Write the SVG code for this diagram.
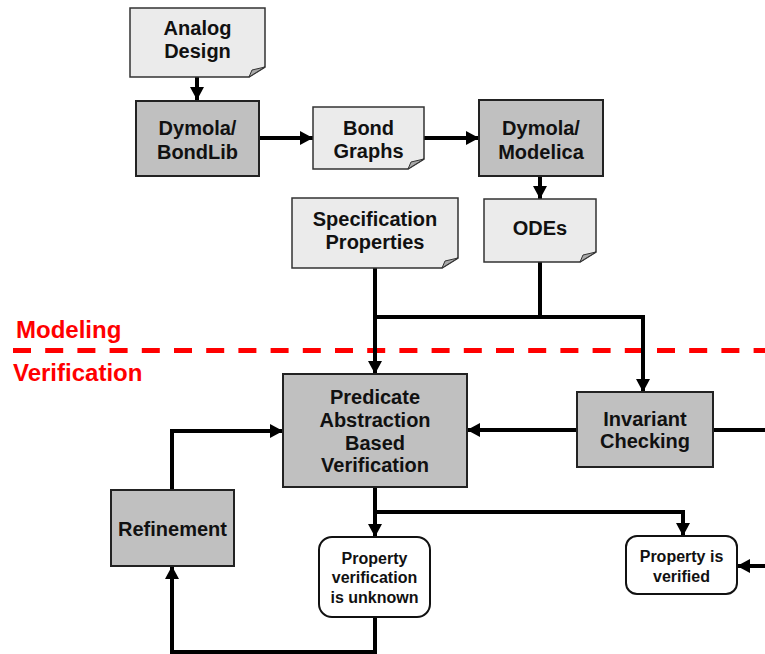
<svg xmlns="http://www.w3.org/2000/svg" width="765" height="654" viewBox="0 0 765 654">
<style>
.t{font-family:"Liberation Sans",Arial,sans-serif;font-weight:bold;font-size:20px;fill:#111;text-anchor:middle}
.s{font-family:"Liberation Sans",Arial,sans-serif;font-weight:bold;font-size:16px;fill:#111;text-anchor:middle}
.r{font-family:"Liberation Sans",Arial,sans-serif;font-weight:bold;font-size:24px;fill:#ff0000}
.box{fill:#c0c0c0;stroke:#222;stroke-width:2}
.doc{fill:#ebebeb;stroke:#333;stroke-width:1.5}
.fold{fill:#a8a8a8;stroke:#333;stroke-width:1}
.res{fill:#fff;stroke:#111;stroke-width:2}
.c{fill:none;stroke:#000;stroke-width:4}
</style>
<defs>
<marker id="a" markerUnits="userSpaceOnUse" markerWidth="14" markerHeight="14" viewBox="0 0 14 14" refX="13" refY="7" orient="auto">
<path d="M0,0 L13,7 L0,14 Z" fill="#000"/>
</marker>
</defs>
<line x1="13" y1="350.5" x2="765" y2="350.5" stroke="#ff0000" stroke-width="5" stroke-dasharray="18 14.2"/>
<text class="r" x="16" y="338">Modeling</text>
<text class="r" x="13" y="381">Verification</text>
<g id="connectors">
<path class="c" d="M197,77 V100" marker-end="url(#a)"/>
<path class="c" d="M259,138 H313" marker-end="url(#a)"/>
<path class="c" d="M424,138 H479" marker-end="url(#a)"/>
<path class="c" d="M540,176 V199" marker-end="url(#a)"/>
<path class="c" d="M375,268 V374" marker-end="url(#a)"/>
<path class="c" d="M540,262 V317"/>
<path class="c" d="M375,317 H643 V392" marker-end="url(#a)"/>
<path class="c" d="M577,430 H467" marker-end="url(#a)"/>
<path class="c" d="M713,430 H765"/>
<path class="c" d="M375,487 V537" marker-end="url(#a)"/>
<path class="c" d="M375,512 H683 V536" marker-end="url(#a)"/>
<path class="c" d="M765,566 H737" marker-end="url(#a)"/>
<path class="c" d="M375,617 V652 H172 V566" marker-end="url(#a)"/>
<path class="c" d="M172,490 V431 H283" marker-end="url(#a)"/>
</g>
<g id="analog-design">
<path class="doc" d="M130,8 H265 V67 L249,77 H130 Z"/>
<path class="fold" d="M265,67 L252,70 L249,77 Z"/>
<text class="t" x="197.5" y="35">Analog</text>
<text class="t" x="197.5" y="58">Design</text>
</g>
<g id="dymola-bondlib">
<rect class="box" x="136" y="101" width="123" height="75"/>
<text class="t" x="197.5" y="135">Dymola/</text>
<text class="t" x="197.5" y="159">BondLib</text>
</g>
<g id="bond-graphs">
<path class="doc" d="M313,107 H424 V159 L408,169 H313 Z"/>
<path class="fold" d="M424,159 L411,162 L408,169 Z"/>
<text class="t" x="368.5" y="135">Bond</text>
<text class="t" x="368.5" y="158">Graphs</text>
</g>
<g id="dymola-modelica">
<rect class="box" x="479" y="100" width="124" height="76"/>
<text class="t" x="541" y="135">Dymola/</text>
<text class="t" x="541" y="159">Modelica</text>
</g>
<g id="specification-properties">
<path class="doc" d="M292,198 H458 V258 L442,268 H292 Z"/>
<path class="fold" d="M458,258 L445,261 L442,268 Z"/>
<text class="t" x="375" y="226">Specification</text>
<text class="t" x="375" y="249">Properties</text>
</g>
<g id="odes">
<path class="doc" d="M484,199 H596 V252 L580,262 H484 Z"/>
<path class="fold" d="M596,252 L583,255 L580,262 Z"/>
<text class="t" x="540" y="235">ODEs</text>
</g>
<g id="predicate-abstraction">
<rect class="box" x="283" y="374" width="184" height="113"/>
<text class="t" x="375" y="404">Predicate</text>
<text class="t" x="375" y="427">Abstraction</text>
<text class="t" x="375" y="450">Based</text>
<text class="t" x="375" y="472">Verification</text>
</g>
<g id="invariant-checking">
<rect class="box" x="577" y="392" width="136" height="75"/>
<text class="t" x="645" y="426">Invariant</text>
<text class="t" x="645" y="448">Checking</text>
</g>
<g id="refinement">
<rect class="box" x="111" y="490" width="123" height="76"/>
<text class="t" x="172.5" y="536">Refinement</text>
</g>
<g id="property-unknown">
<rect class="res" x="319" y="537" width="111" height="80" rx="13"/>
<text class="s" x="374.5" y="564">Property</text>
<text class="s" x="374.5" y="583">verification</text>
<text class="s" x="374.5" y="603">is unknown</text>
</g>
<g id="property-verified">
<rect class="res" x="626" y="536" width="111" height="58" rx="11"/>
<text class="s" x="681.5" y="562">Property is</text>
<text class="s" x="681.5" y="582">verified</text>
</g>
</svg>
